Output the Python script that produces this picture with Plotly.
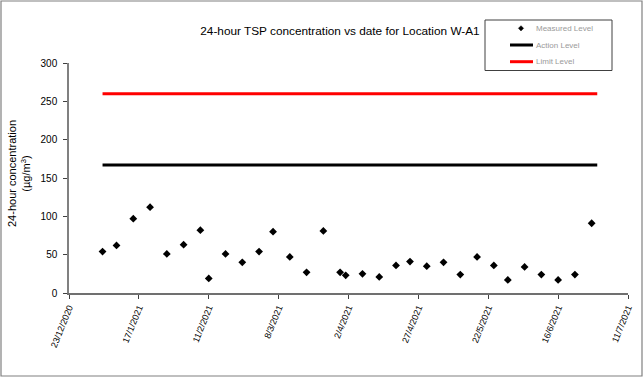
import plotly.graph_objects as go

# ---- data ----
dates = ["2021-01-04", "2021-01-09", "2021-01-15", "2021-01-21", "2021-01-27",
         "2021-02-02", "2021-02-08", "2021-02-11", "2021-02-17", "2021-02-23",
         "2021-03-01", "2021-03-06", "2021-03-12", "2021-03-18", "2021-03-24",
         "2021-03-30", "2021-04-01", "2021-04-07", "2021-04-13", "2021-04-19",
         "2021-04-24", "2021-04-30", "2021-05-06", "2021-05-12", "2021-05-18",
         "2021-05-24", "2021-05-29", "2021-06-04", "2021-06-10", "2021-06-16",
         "2021-06-22", "2021-06-28"]
measured = [54, 62, 97, 112, 51, 63, 82, 19, 51, 40,
            54, 80, 47, 27, 81, 27, 23, 25, 21, 36,
            41, 35, 40, 24, 47, 36, 17, 34, 24, 17,
            24, 91]
level_dates = ["2021-01-04", "2021-06-30"]
action_level = [167, 167]
limit_level = [260, 260]
tick_dates = ["2020-12-23", "2021-01-17", "2021-02-11", "2021-03-08", "2021-04-02",
              "2021-04-27", "2021-05-22", "2021-06-16", "2021-07-11"]
tick_labels = ["23/12/2020", "17/1/2021", "11/2/2021", "8/3/2021", "2/4/2021",
               "27/4/2021", "22/5/2021", "16/6/2021", "11/7/2021"]
y_ticks = [0, 50, 100, 150, 200, 250, 300]
series_names = ["Measured Level", "Action Level", "Limit Level"]

W, H = 643, 377
L, R, T, B = 69, 15, 63, 84
pw, ph = W - L - R, H - T - B

def px(x):
    return (x - L) / pw

def py(y):
    return (H - B - y) / ph

FONT = "Liberation Sans, Arial, sans-serif"

fig = go.Figure()
fig.add_trace(go.Scatter(x=dates, y=measured, mode="markers", name=series_names[0],
                         marker=dict(symbol="diamond", size=6, color="black"),
                         showlegend=False))
fig.add_trace(go.Scatter(x=level_dates, y=action_level, mode="lines", name=series_names[1],
                         line=dict(color="black", width=3), showlegend=False))
fig.add_trace(go.Scatter(x=level_dates, y=limit_level, mode="lines", name=series_names[2],
                         line=dict(color="#ff0000", width=3), showlegend=False))

fig.update_layout(
    width=W, height=H,
    margin=dict(l=L, r=R, t=T, b=B, pad=0, autoexpand=False),
    paper_bgcolor="white", plot_bgcolor="white",
    font=dict(family=FONT, size=10, color="black"),
    title=dict(text="24-hour TSP concentration vs date for Location W-A1",
               x=340 / W, xanchor="center", xref="container",
               y=1 - 31 / H, yanchor="middle", yref="container",
               font=dict(size=11.8, family=FONT, color="black")),
    showlegend=False,
    xaxis=dict(type="date", range=["2020-12-23", "2021-07-11"],
               tickvals=tick_dates, ticktext=tick_labels, tickangle=-68,
               tickfont=dict(size=9, color="black"),
               showgrid=False, zeroline=False, showline=True,
               linecolor="#707070", linewidth=1.5,
               ticks="outside", ticklen=4, tickcolor="#404040"),
    yaxis=dict(range=[0, 300], tickvals=y_ticks,
               tickfont=dict(size=10, color="black"),
               showgrid=False, zeroline=False, showline=True,
               linecolor="#808080", linewidth=1.5,
               ticks="outside", ticklen=4, tickcolor="#404040",
               ticklabelstandoff=4),
)

fig.add_annotation(text="24-hour concentration<br>(µg/m<sup>3</sup>)",
                   xref="paper", yref="paper", x=px(19), y=py(174),
                   xanchor="center", yanchor="middle",
                   textangle=-90, showarrow=False,
                   font=dict(size=11, family=FONT, color="black"))

# outer chart border
fig.add_shape(type="rect", xref="paper", yref="paper",
              x0=px(1), x1=px(642), y0=py(376), y1=py(1),
              line=dict(color="#808080", width=1.2), layer="below")

# manual legend
fig.add_shape(type="rect", xref="paper", yref="paper",
              x0=px(485), x1=px(612), y0=py(70.5), y1=py(20),
              line=dict(color="#404040", width=1), fillcolor="white", layer="above")
item_y = [28.3, 45, 61.7]
cx, r = 521, 2.6
fig.add_shape(type="path", xref="paper", yref="paper",
              path=(f"M {px(cx - r)} {py(item_y[0])} L {px(cx)} {py(item_y[0] - r)} "
                    f"L {px(cx + r)} {py(item_y[0])} L {px(cx)} {py(item_y[0] + r)} Z"),
              fillcolor="black", line=dict(color="black", width=0.5), layer="above")
for yy, col in zip(item_y[1:], ["black", "#ff0000"]):
    fig.add_shape(type="line", xref="paper", yref="paper",
                  x0=px(510), x1=px(533), y0=py(yy), y1=py(yy),
                  line=dict(color=col, width=3), layer="above")
for yy, name in zip(item_y, series_names):
    fig.add_annotation(text=name, xref="paper", yref="paper",
                       x=px(534), y=py(yy), xanchor="left", yanchor="middle",
                       showarrow=False,
                       font=dict(size=8, color="#9a9a9a", family=FONT))

fig.write_html("out.html", config={"displayModeBar": False},
               post_script="document.body.style.margin='0';")
